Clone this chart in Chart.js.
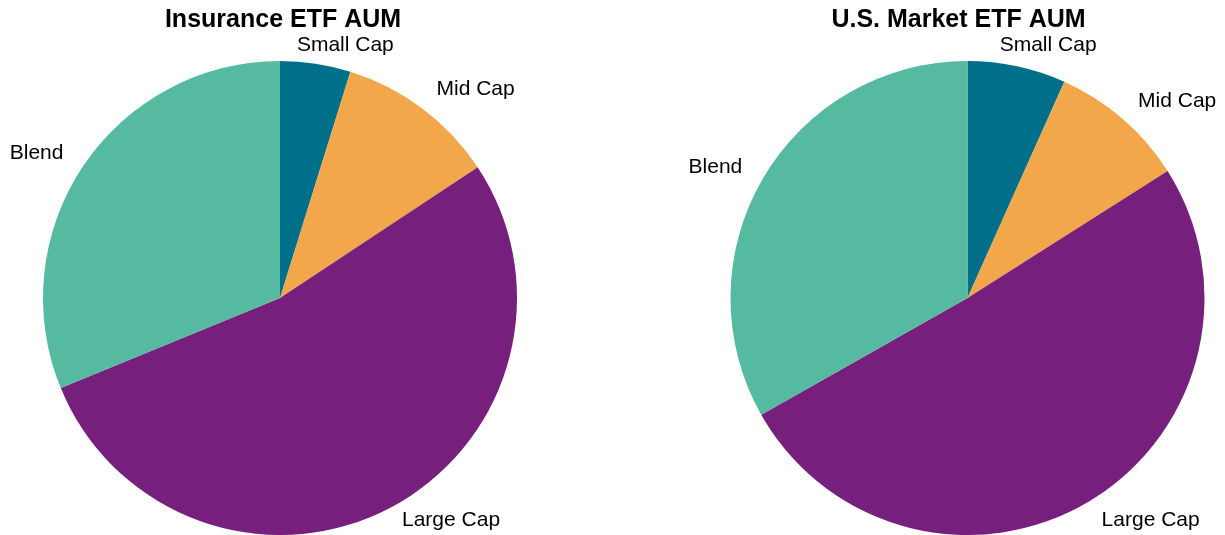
<!DOCTYPE html>
<html>
<head>
<meta charset="utf-8">
<title>ETF AUM by size</title>
<script src="https://cdn.jsdelivr.net/npm/chart.js@4/dist/chart.umd.min.js"></script>
<style>
  html, body { margin: 0; padding: 0; background: #fff; }
  #wrap { position: relative; width: 1225px; height: 535px; overflow: hidden; }
  canvas { position: absolute; top: 0; }
  #insurance { left: 0; }
  #market { left: 612px; }
</style>
</head>
<body>
<div id="wrap">
  <canvas id="insurance" width="612" height="535"></canvas>
  <canvas id="market" width="613" height="535"></canvas>
</div>
<script>
// data (% of AUM)
const categories = ['Small Cap', 'Mid Cap', 'Large Cap', 'Blend'];
const insuranceAum = [4.8, 10.9, 53.1, 31.2];
const marketAum = [6.7, 9.3, 50.8, 33.2];

const sliceColors = ['#006f8a', '#f2a74b', '#761f7d', '#55baa0'];
const fontFamily = '"Liberation Sans", Arial, Helvetica, sans-serif';

// labels sit just outside each slice, at its middle angle
const outsideLabels = {
  id: 'outsideLabels',
  afterDatasetsDraw(chart) {
    const ctx = chart.ctx;
    const meta = chart.getDatasetMeta(0);
    ctx.save();
    ctx.font = '21px ' + fontFamily;
    ctx.fillStyle = '#000';
    ctx.textBaseline = 'middle';
    meta.data.forEach((arc, i) => {
      const p = arc.getProps(['x', 'y', 'startAngle', 'endAngle', 'outerRadius'], true);
      const mid = (p.startAngle + p.endAngle) / 2;
      const r = p.outerRadius * 1.1;
      const text = chart.data.labels[i];
      let lx = p.x + Math.cos(mid) * r;
      let ly = p.y + Math.sin(mid) * r;
      // keep labels inside the canvas band
      ly = Math.min(Math.max(ly, 45), chart.height - 15);
      ctx.textAlign = lx >= p.x ? 'left' : 'right';
      // labels near the top slide left a bit, over the slice
      if (-Math.sin(mid) > 0.95 && lx >= p.x) {
        lx -= ctx.measureText(text).width * 0.23;
      }
      ctx.fillText(text, lx, ly);
    });
    ctx.restore();
  }
};

// bold title above the pie
const pieTitle = {
  id: 'pieTitle',
  afterDraw(chart, args, opts) {
    const ctx = chart.ctx;
    const area = chart.chartArea;
    ctx.save();
    ctx.font = 'bold 25px ' + fontFamily;
    ctx.fillStyle = '#000';
    ctx.textAlign = 'center';
    ctx.textBaseline = 'alphabetic';
    ctx.fillText(opts.text, (area.left + area.right) / 2 + (opts.dx || 0), 26.5);
    ctx.restore();
  }
};

function makePie(id, values, title, padding, dx) {
  return new Chart(document.getElementById(id), {
    type: 'pie',
    data: {
      labels: categories,
      datasets: [{
        data: values,
        backgroundColor: sliceColors,
        borderWidth: 0
      }]
    },
    options: {
      responsive: false,
      animation: false,
      layout: { padding: padding },
      plugins: {
        legend: { display: false },
        tooltip: { enabled: false },
        pieTitle: { text: title, dx: dx }
      }
    },
    plugins: [outsideLabels, pieTitle]
  });
}

makePie('insurance', insuranceAum, 'Insurance ETF AUM', { top: 61, left: 0, right: 52, bottom: 0 }, 3);
makePie('market', marketAum, 'U.S. Market ETF AUM', { top: 61, left: 98, right: 0, bottom: 0 }, -9);
</script>
</body>
</html>
